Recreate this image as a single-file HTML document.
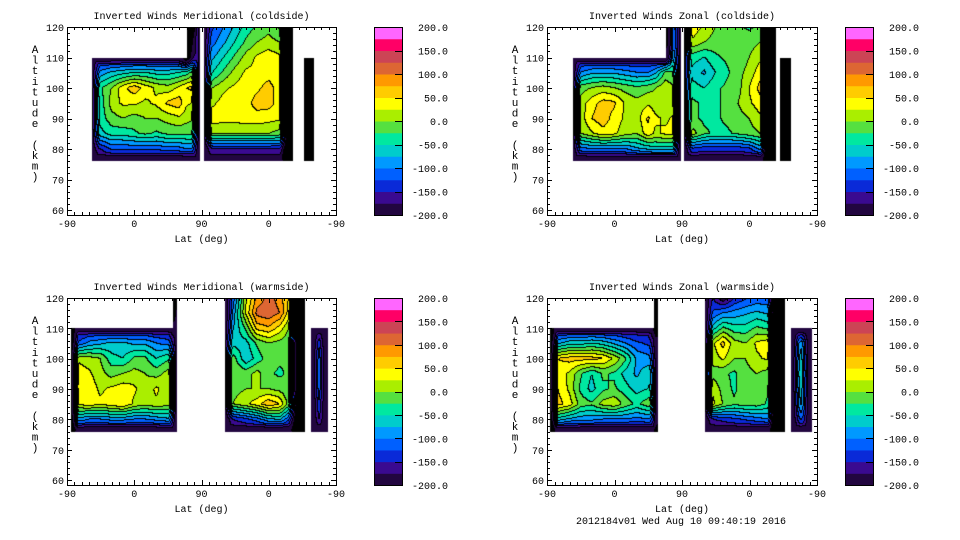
<!DOCTYPE html>
<html><head><meta charset="utf-8">
<style>
html,body{margin:0;padding:0;background:#fff;}
#root{position:relative;width:960px;height:540px;overflow:hidden;background:#fff;}
canvas{position:absolute;}
svg{position:absolute;left:0;top:0;}
text{font-family:"Liberation Mono","DejaVu Sans Mono",monospace;font-size:10px;fill:#000;}
</style></head>
<body>
<div id="root">
<svg id="ov" width="960" height="540"></svg>
</div>
<script>
const N = null;
const R = (v, n) => Array(n).fill(v);
const alts = [120,115,110,105,100,95,90,85,80,76];
const levels = [-200,-150,-100,-50,0,50,100,150,200];
const levelLabels = ["-200.0","-150.0","-100.0","-50.0","0.0","50.0","100.0","150.0","200.0"];
const xTickLabels = ["-90","0","90","0","-90"];
const yTickVals = [60,70,80,90,100,110,120];

const merColdCols = [33,45,60,75,90,105,120,135,150,160,172,178,179,183,195,210,225,240,255,270,285,297,303,304,317,330];
const merColdVals = [
 [...R(N,9),-250,-200,0,N,-150,-130,-100,-70,-40,-20,-10,-30,-250,-250,N,N,N],
 [...R(N,9),-250,-180,20,N,-120,-110,-80,-50,-20,0,10,0,-250,-250,N,N,N],
 [-170,-170,-170,-170,-170,-170,-170,-170,-170,-250,-150,30,N,-90,-80,-50,-20,10,30,40,30,-250,-250,N,-250,-250],
 [-120,-90,-70,-60,-50,-50,-60,-60,-50,-40,0,30,N,-60,-50,-20,10,30,30,40,30,-250,-250,N,-250,-250],
 [-80,-30,0,40,65,40,20,10,30,50,60,40,N,-20,0,20,30,40,45,60,40,-250,-250,N,-250,-250],
 [-60,-40,10,30,30,20,30,55,65,30,20,20,N,10,20,35,40,40,60,60,40,-250,-250,N,-250,-250],
 [-60,-40,-10,0,-10,0,0,10,20,10,0,0,N,30,40,35,35,40,40,35,30,-250,-250,N,-250,-250],
 [-80,-60,-40,-40,-30,-20,-30,-20,-20,-20,-20,-10,N,-10,0,0,0,0,0,0,-10,-250,-250,N,-250,-250],
 [-150,-150,-120,-120,-120,-120,-120,-110,-110,-100,-100,-150,N,-170,-150,-150,-150,-150,-150,-150,-150,-250,-250,N,-250,-250],
 [-190,-190,-190,-190,-190,-190,-190,-190,-190,-190,-190,-190,N,-190,-190,-190,-190,-190,-190,-190,-190,-250,-250,N,-250,-250]
];

const zonColdCols = [35,45,60,75,90,105,120,135,145,158,170,178,179,183,195,210,225,240,255,270,285,295,305,307,311,325];
const zonColdVals = [
 [...R(N,9),-250,-100,-50,N,0,40,20,0,-10,-20,-30,-20,-250,-250,N,N,N],
 [...R(N,9),-250,-100,-40,N,-10,20,0,-10,-10,-20,-10,0,-250,-250,N,N,N],
 [-170,-170,-170,-170,-170,-170,-170,-170,-170,-200,-60,-30,N,-30,-40,-50,-30,-20,-20,0,20,-250,-250,N,-250,-250],
 [-120,-100,-80,-80,-80,-90,-100,-100,-80,-20,-20,-10,N,-20,-60,-80,-50,-30,-10,10,40,-250,-250,N,-250,-250],
 [-40,-10,0,10,0,-10,-20,-10,0,20,0,10,N,-10,-40,-50,-30,-20,-10,25,60,-250,-250,N,-250,-250],
 [-30,10,40,60,55,20,10,20,10,0,10,20,N,-10,-20,-30,-30,-20,0,20,40,-250,-250,N,-250,-250],
 [-30,10,50,65,40,20,10,55,30,20,30,30,N,-10,-20,-30,-30,-20,-10,0,20,-250,-250,N,-250,-250],
 [-40,0,20,40,30,10,0,40,20,30,30,20,N,-20,10,-20,-30,-30,-20,-10,0,-250,-250,N,-250,-250],
 [-130,-110,-100,-100,-100,-100,-80,-70,-60,-60,-60,-80,N,-150,-130,-140,-140,-140,-140,-130,-90,-250,-250,N,-250,-250],
 [-190,-190,-190,-190,-190,-190,-190,-190,-190,-190,-190,-190,N,-190,-190,-190,-190,-190,-190,-190,-190,-250,-250,N,-250,-250]
];

const merWarmCols = [5,15,30,45,60,75,90,105,120,135,142,147,148,212,222,240,255,270,285,297,310,318,319,327,338,349];
const merWarmVals = [
 [...R(N,10),-250,-250,N,-150,-120,20,80,110,90,50,-250,-250,N,N,N,N],
 [...R(N,10),-250,-200,N,-150,-100,30,110,120,100,40,-250,-250,N,N,N,N],
 [-250,-170,-170,-170,-170,-170,-170,-170,-170,-170,-200,-150,N,-120,-80,-20,60,70,40,0,-250,-250,N,-190,-190,-190],
 [-250,-120,-90,-80,-70,-70,-80,-80,-100,-110,-100,-80,N,-60,-60,-60,-20,0,-10,-20,-250,-250,N,-190,-130,-190],
 [-250,20,10,0,-40,-50,-20,-20,-50,-30,-10,0,N,30,-10,-70,-40,-10,-20,-20,-250,-250,N,-190,-110,-190],
 [-250,40,30,10,-10,0,10,0,-10,10,20,30,N,40,0,-10,10,-20,-30,-20,-250,-250,N,-190,-100,-190],
 [-250,40,40,20,30,40,30,10,30,10,30,30,N,0,-10,0,0,0,-10,-20,-250,-250,N,-190,-110,-190],
 [-250,30,40,30,40,50,20,10,20,10,30,20,N,-10,0,20,40,70,50,-10,-250,-250,N,-190,-130,-190],
 [-250,-80,-100,-100,-90,-90,-100,-100,-90,-80,-80,-150,N,-170,-150,-130,-110,-80,-70,-120,-250,-250,N,-190,-150,-190],
 [-250,-190,-190,-190,-190,-190,-190,-190,-190,-190,-190,-190,N,-190,-190,-190,-190,-190,-190,-190,-250,-250,N,-190,-190,-190]
];

const zonWarmCols = [4,15,30,45,60,75,90,105,120,135,142,148,149,211,222,235,250,265,280,295,305,317,318,325,339,353];
const zonWarmVals = [
 [...R(N,10),-250,-250,N,-160,-150,-200,-150,-130,-120,-120,-250,-250,N,N,N,N],
 [...R(N,10),-250,-250,N,-150,-120,-100,-90,-80,-70,-80,-250,-250,N,N,N,N],
 [-250,-170,-170,-170,-170,-170,-170,-170,-170,-170,-200,-250,N,-120,-60,-20,-40,-40,-20,-30,-250,-250,N,-190,-190,-190],
 [-250,-80,-60,-60,-50,-60,-80,-100,-120,-130,-140,-200,N,-60,20,60,10,0,30,40,-250,-250,N,-190,-80,-190],
 [-250,50,60,60,60,50,20,-20,-80,-90,-100,-150,N,-40,10,30,0,0,20,30,-250,-250,N,-190,-60,-190],
 [-250,40,20,-20,-50,-20,-30,-60,-80,-60,-50,-150,N,-40,-10,-20,-30,-10,0,-10,-250,-250,N,-190,-50,-190],
 [-250,50,20,-30,-60,-30,-20,-40,-60,-50,-40,-150,N,0,20,-10,-30,-10,-10,-20,-250,-250,N,-190,-60,-190],
 [-250,60,40,-10,-20,10,20,-10,-30,-10,0,-150,N,20,30,0,-20,-10,-10,-30,-250,-250,N,-190,-70,-190],
 [-250,-60,-80,-90,-90,-100,-100,-100,-110,-100,-100,-200,N,-150,-150,-140,-130,-120,-110,-100,-250,-250,N,-190,-120,-190],
 [-250,-190,-190,-190,-190,-190,-190,-190,-190,-190,-190,-250,N,-190,-190,-190,-190,-190,-190,-190,-250,-250,N,-190,-190,-190]
];

const palette = ["#220640","#3a0a90","#0a2ad8","#0060ff","#0099ff","#00cccc","#00e8a0","#55e040",
                 "#aaee00","#ffff00","#ffcc00","#ff9900","#dd6633","#cc4455","#ff0066","#ff66ff"];

const panels = [
 {name:"meridional-coldside", title:"Inverted Winds Meridional (coldside)", cols:merColdCols, vals:merColdVals, x0:67,y0:27,x1:336,y1:215, cb:374},
 {name:"zonal-coldside", title:"Inverted Winds Zonal (coldside)", cols:zonColdCols, vals:zonColdVals, x0:547,y0:27,x1:817,y1:215, cb:845},
 {name:"meridional-warmside", title:"Inverted Winds Meridional (warmside)", cols:merWarmCols, vals:merWarmVals, x0:67,y0:298,x1:336,y1:485, cb:374},
 {name:"zonal-warmside", title:"Inverted Winds Zonal (warmside)", cols:zonWarmCols, vals:zonWarmVals, x0:547,y0:298,x1:817,y1:485, cb:845}
];
const AMIN = 58.4, AMAX = 120, FALL = 8;

function hex(c){return [parseInt(c.substr(1,2),16),parseInt(c.substr(3,2),16),parseInt(c.substr(5,2),16)];}
const pal = palette.map(hex);

function valueAt(p, t, a){
  const c = p.cols;
  if (t < c[0] || t > c[c.length-1] || a > 120 || a < 76) return null;
  let i = 0; while (i < c.length-2 && t > c[i+1]) i++;
  let j = 0; while (j < alts.length-2 && a < alts[j+1]) j++;
  const v00=p.vals[j][i], v01=p.vals[j][i+1], v10=p.vals[j+1][i], v11=p.vals[j+1][i+1];
  if (v00===null||v01===null||v10===null||v11===null) return null;
  const fx=(t-c[i])/(c[i+1]-c[i]), fy=(alts[j]-a)/(alts[j]-alts[j+1]);
  return (v00*(1-fx)+v01*fx)*(1-fy)+(v10*(1-fx)+v11*fx)*fy;
}

const root = document.getElementById('root');
const ov = document.getElementById('ov');
const NS = "http://www.w3.org/2000/svg";
function mk(tag, attrs, parent){const e=document.createElementNS(NS,tag);for(const k in attrs)e.setAttribute(k,attrs[k]);(parent||ov).appendChild(e);return e;}

panels.forEach(p=>{
  const w=p.x1-p.x0, h=p.y1-p.y0;
  const cv=document.createElement('canvas');
  cv.width=w; cv.height=h; cv.style.left=p.x0+'px'; cv.style.top=p.y0+'px';
  
  
  root.insertBefore(cv, ov);
  const ctx=cv.getContext('2d');
  const img=ctx.createImageData(w,h);
  const val=new Array(w*h);
  const dist=new Float32Array(w*h);
  for(let y=0;y<h;y++)for(let x=0;x<w;x++){
    const t=(x+0.5)/w*360, a=AMAX-(y+0.5)/h*(AMAX-AMIN);
    const v=valueAt(p,t,a);
    val[y*w+x]=v;
    dist[y*w+x]= v===null?0:99;
  }
  const D1=1, D2=1.414;
  for(let y=0;y<h;y++)for(let x=0;x<w;x++){const k=y*w+x;let d=dist[k];if(d===0)continue;
    if(x>0)d=Math.min(d,dist[k-1]+D1);
    if(y>0){d=Math.min(d,dist[k-w]+D1);if(x>0)d=Math.min(d,dist[k-w-1]+D2);if(x<w-1)d=Math.min(d,dist[k-w+1]+D2);}
    dist[k]=d;}
  for(let y=h-1;y>=0;y--)for(let x=w-1;x>=0;x--){const k=y*w+x;let d=dist[k];if(d===0)continue;
    if(x<w-1)d=Math.min(d,dist[k+1]+D1);
    if(y<h-1){d=Math.min(d,dist[k+w]+D1);if(x>0)d=Math.min(d,dist[k+w-1]+D2);if(x<w-1)d=Math.min(d,dist[k+w+1]+D2);}
    dist[k]=d;}
  const lev=new Array(w*h);
  for(let k=0;k<w*h;k++){
    let v=val[k]; if(v===null){lev[k]=null;continue;}
    const f=Math.min(1,(dist[k]-0.5)/FALL);
    v=-199+(v+199)*f;
    lev[k]=Math.floor((v+200)/25);
  }
  for(let y=0;y<h;y++)for(let x=0;x<w;x++){
    const k=y*w+x, L=lev[k]; if(L===null) continue;
    let col = L<0 ? [0,0,0] : pal[Math.min(15,L)];
    const r=x<w-1?lev[k+1]:null, d=y<h-1?lev[k+w]:null;
    if((r!==null&&r!==L)||(d!==null&&d!==L)) col=[0,0,0];
    img.data[k*4]=col[0];img.data[k*4+1]=col[1];img.data[k*4+2]=col[2];img.data[k*4+3]=255;
  }
  ctx.putImageData(img,0,0);

  const g=mk('g',{});
  
  
  const fr=mk('rect',{x:p.x0+0.5,y:p.y0+0.5,width:w,height:h,fill:'none',stroke:'#000','stroke-width':1},g);
  
  
  const ay=a=>p.y0+(AMAX-a)/(AMAX-AMIN)*h;
  const ax=t=>p.x0+t/360*w;
  let d='';
  for(let a=60;a<=120;a+=2){const yy=Math.round(ay(a))+0.5;const L=(a%10===0)?5:3;d+=`M${p.x0} ${yy}h${L}M${p.x1} ${yy}h${-L}`;}
  for(let t=0;t<=360;t+=10){const xx=Math.round(ax(t))+0.5;const L=(t%90===0)?5:3;d+=`M${xx} ${p.y1}v${-L}M${xx} ${p.y0}v${L}`;}
  const tk=mk('path',{d:d,stroke:'#000','stroke-width':1,fill:'none'},g);
  
  
  yTickVals.forEach(a=>{
    const tx=mk('text',{x:p.x0-3,y:ay(a)+4,'text-anchor':'end'},g); tx.textContent=String(a);
    
    
  });
  xTickLabels.forEach((s,i)=>{
    const tx=mk('text',{x:ax(i*90),y:p.y1+12,'text-anchor':'middle'},g); tx.textContent=s;
    
    
  });
  const xl=mk('text',{x:(p.x0+p.x1)/2,y:p.y1+27,'text-anchor':'middle'},g); xl.textContent='Lat (deg)';
  
  
  const tt=mk('text',{x:(p.x0+p.x1)/2,y:p.y0-8,'text-anchor':'middle'},g); tt.textContent=p.title;
  
  
  const yt=mk('text',{x:p.x0-32,y:p.y0+26,'text-anchor':'middle'},g);
  
  
  'Altitude (km)'.split('').forEach((ch,i)=>{const ts=mk('tspan',{x:p.x0-32,y:p.y0+26+i*10.6,style:'font-size:11px'},yt);ts.textContent=ch===' '?'\u00a0':ch;});
  const cg=mk('g',{},g);
  
  
  const bw=28, bh=h;
  palette.forEach((c,i)=>{
    const y0=p.y0+bh-(i+1)*bh/16;
    const r=mk('rect',{x:p.cb,y:y0,width:bw,height:bh/16+0.5,fill:c},cg);
    
    
  });
  mk('rect',{x:p.cb+0.5,y:p.y0+0.5,width:bw,height:bh,fill:'none',stroke:'#000'},cg);
  levels.forEach((lv,i)=>{
    const yy=p.y0+bh-(lv+200)/400*bh;
    mk('path',{d:`M${p.cb+bw} ${Math.round(yy)+0.5}h-7`,stroke:'#000'},cg);
    const tx=mk('text',{x:p.cb+74,y:yy+4,'text-anchor':'end'},cg); tx.textContent=levelLabels[i];
    
    
  });
});
const ft=mk('text',{x:681,y:524,'text-anchor':'middle'});
ft.textContent='2012184v01 Wed Aug 10 09:40:19 2016';


</script>
</body></html>
